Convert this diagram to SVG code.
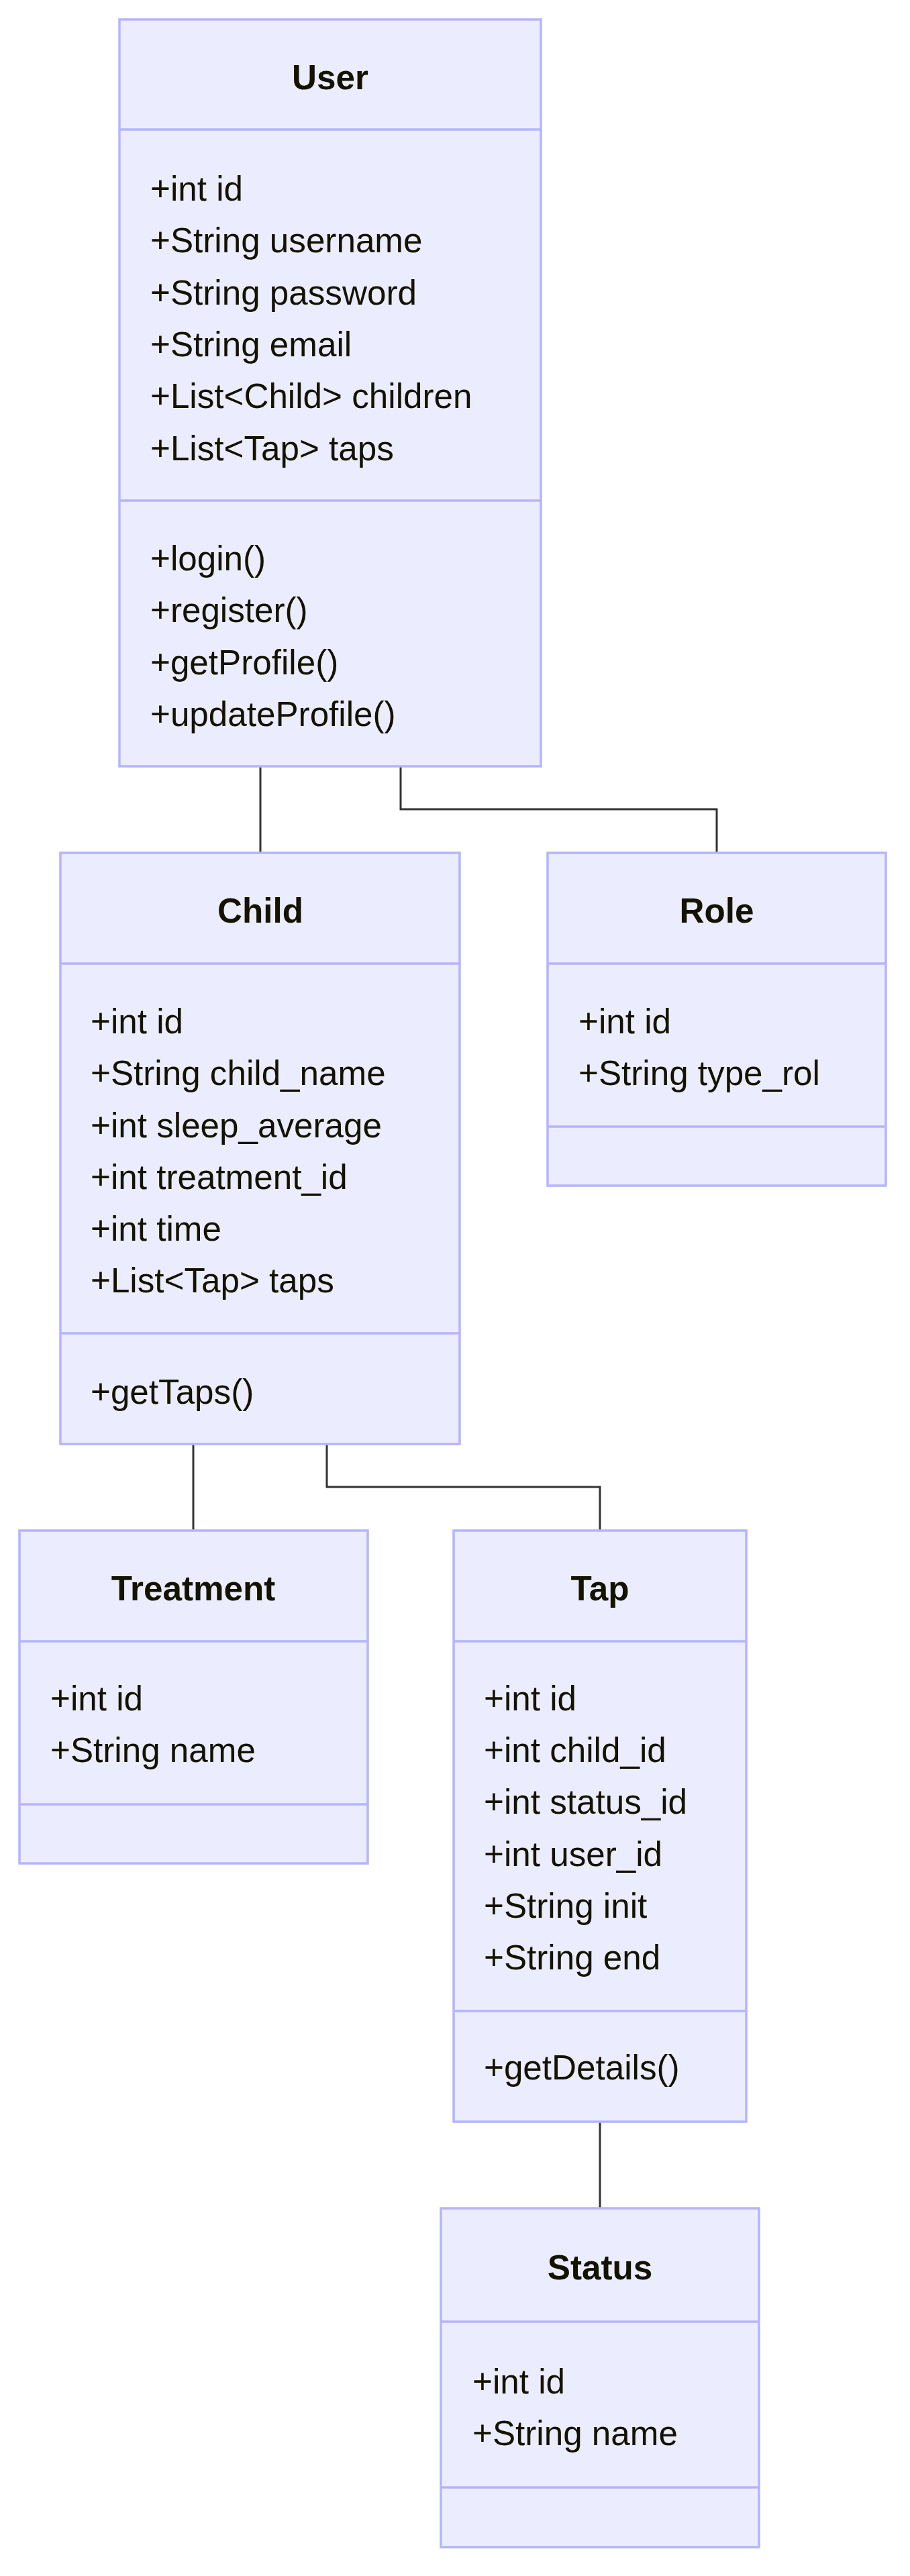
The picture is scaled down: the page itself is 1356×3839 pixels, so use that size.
<svg xmlns="http://www.w3.org/2000/svg" width="1356" height="3839" viewBox="0 0 1356 3839">
<style>
.box{fill:#ECECFF;stroke:#B4B4FF;stroke-width:3.5}
.div{stroke:#B4B4FF;stroke-width:3.5;fill:none}
.edge{stroke:#333333;stroke-width:3;fill:none}
.t{font-family:"Liberation Sans",Arial,sans-serif;font-size:51.2px;fill:#131300}
.h{font-weight:bold;text-anchor:middle}
</style>
<rect width="1356" height="3839" fill="#ffffff"/>
<g id="connectors">
<path class="edge" d="M388 1142 V1271"/>
<path class="edge" d="M597 1142 V1206 H1068 V1271"/>
<path class="edge" d="M288 2152 V2281"/>
<path class="edge" d="M487 2152 V2216 H894 V2281"/>
<path class="edge" d="M894 3162 V3291"/>
</g>
<g id="User">
<rect class="box" x="178" y="29" width="628" height="1113"/>
<line class="div" x1="178" y1="193" x2="806" y2="193"/>
<line class="div" x1="178" y1="746" x2="806" y2="746"/>
<text class="t h" x="492" y="133">User</text>
<text class="t" x="224" y="299">+int id</text>
<text class="t" x="224" y="376">+String username</text>
<text class="t" x="224" y="454">+String password</text>
<text class="t" x="224" y="531">+String email</text>
<text class="t" x="224" y="608">+List&lt;Child&gt; children</text>
<text class="t" x="224" y="686">+List&lt;Tap&gt; taps</text>
<text class="t" x="224" y="850">+login()</text>
<text class="t" x="224" y="927">+register()</text>
<text class="t" x="224" y="1005">+getProfile()</text>
<text class="t" x="224" y="1082">+updateProfile()</text>
</g>
<g id="Child">
<rect class="box" x="90" y="1271" width="595" height="881"/>
<line class="div" x1="90" y1="1436" x2="685" y2="1436"/>
<line class="div" x1="90" y1="1987" x2="685" y2="1987"/>
<text class="t h" x="388" y="1375">Child</text>
<text class="t" x="135" y="1540">+int id</text>
<text class="t" x="135" y="1617">+String child_name</text>
<text class="t" x="135" y="1695">+int sleep_average</text>
<text class="t" x="135" y="1772">+int treatment_id</text>
<text class="t" x="135" y="1849">+int time</text>
<text class="t" x="135" y="1926">+List&lt;Tap&gt; taps</text>
<text class="t" x="135" y="2092">+getTaps()</text>
</g>
<g id="Role">
<rect class="box" x="816" y="1271" width="504" height="496"/>
<line class="div" x1="816" y1="1436" x2="1320" y2="1436"/>
<line class="div" x1="816" y1="1679" x2="1320" y2="1679"/>
<text class="t h" x="1068" y="1375">Role</text>
<text class="t" x="862" y="1540">+int id</text>
<text class="t" x="862" y="1617">+String type_rol</text>
</g>
<g id="Treatment">
<rect class="box" x="29" y="2281" width="519" height="496"/>
<line class="div" x1="29" y1="2446" x2="548" y2="2446"/>
<line class="div" x1="29" y1="2689" x2="548" y2="2689"/>
<text class="t h" x="288" y="2385">Treatment</text>
<text class="t" x="75" y="2549">+int id</text>
<text class="t" x="75" y="2626">+String name</text>
</g>
<g id="Tap">
<rect class="box" x="676" y="2281" width="436" height="881"/>
<line class="div" x1="676" y1="2446" x2="1112" y2="2446"/>
<line class="div" x1="676" y1="2997" x2="1112" y2="2997"/>
<text class="t h" x="894" y="2385">Tap</text>
<text class="t" x="721" y="2549">+int id</text>
<text class="t" x="721" y="2626">+int child_id</text>
<text class="t" x="721" y="2703">+int status_id</text>
<text class="t" x="721" y="2781">+int user_id</text>
<text class="t" x="721" y="2858">+String init</text>
<text class="t" x="721" y="2935">+String end</text>
<text class="t" x="721" y="3099">+getDetails()</text>
</g>
<g id="Status">
<rect class="box" x="657" y="3291" width="474" height="505"/>
<line class="div" x1="657" y1="3460" x2="1131" y2="3460"/>
<line class="div" x1="657" y1="3707" x2="1131" y2="3707"/>
<text class="t h" x="894" y="3397">Status</text>
<text class="t" x="704" y="3567">+int id</text>
<text class="t" x="704" y="3644">+String name</text>
</g>
</svg>
